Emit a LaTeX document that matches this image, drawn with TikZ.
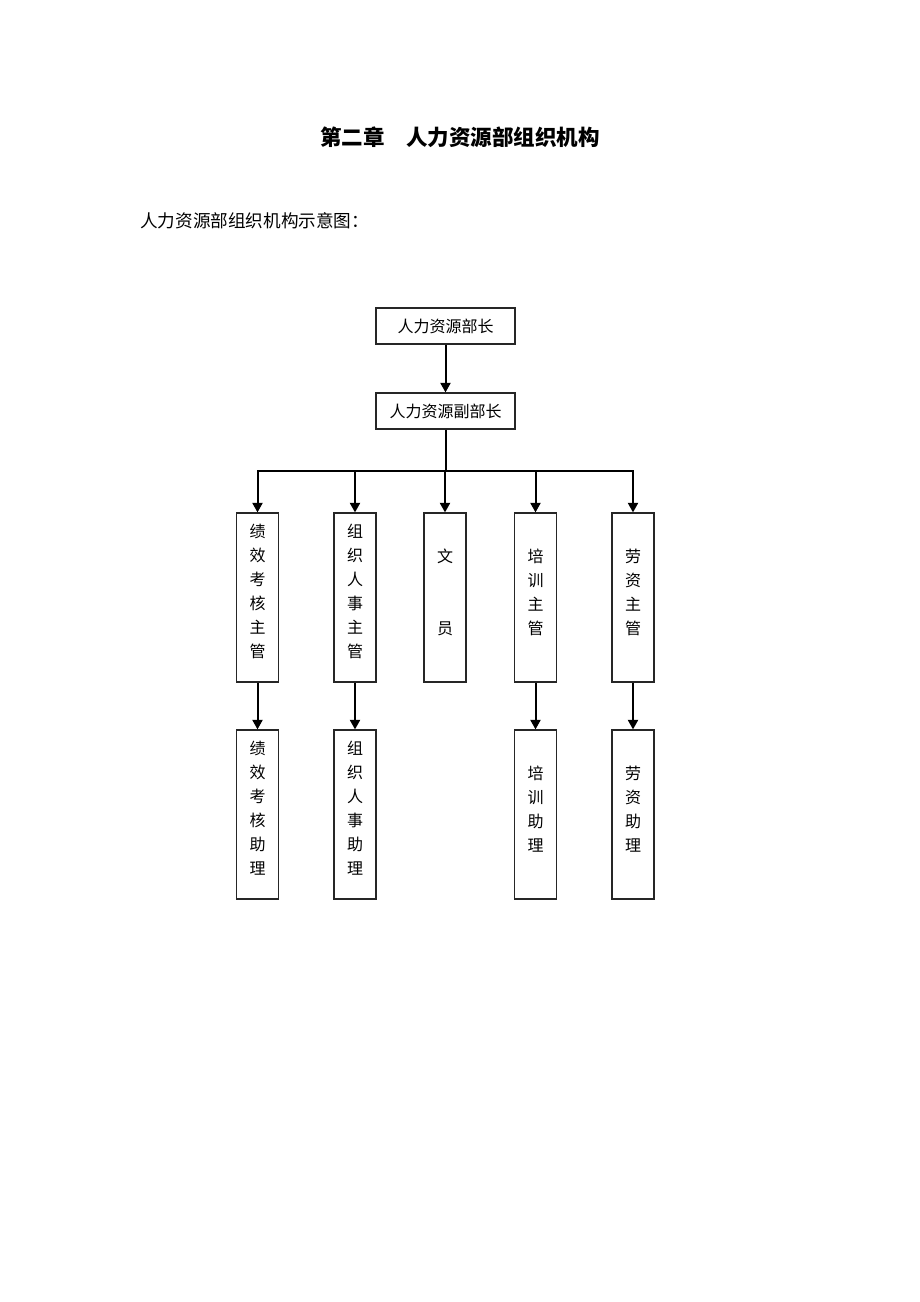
\documentclass[tikz,border=0pt]{standalone}
\usepackage{fontspec}
\newfontfamily\cjk{Noto Sans CJK SC}
\usetikzlibrary{arrows.meta}
\tikzstyle{unitbox}=[draw=black!85,line width=1.2pt,minimum width=139pt,minimum height=36pt,inner sep=0pt,font=\cjk\fontsize{16pt}{24pt}\selectfont]
\tikzstyle{colbox}=[draw=black!85,line width=1.2pt,inner sep=0pt,font=\cjk\fontsize{16pt}{24pt}\selectfont]
\tikzstyle{link}=[line width=2pt,-{Triangle[length=9.5pt,width=10pt]}]
\tikzstyle{busline}=[line width=2pt]
\newcommand{\coltext}[2][24.5pt]{\parbox[c][169pt][t]{42pt}{\centering\rule{0pt}{#1}#2}} % first line lowered by #1

\begin{document}
\begin{tikzpicture}[x=1pt,y=-1pt]
\useasboundingbox (0,0) rectangle (920,1302);
% headings
\node[font=\cjk\bfseries\fontsize{21.5pt}{26pt}\selectfont] (title) at (460,137) {第二章　人力资源部组织机构};
\node[anchor=west,inner sep=0pt,font=\cjk\fontsize{17.6pt}{22pt}\selectfont] (subtitle) at (140,220.5) {人力资源部组织机构示意图：};
% top of the chart
\node[unitbox] (head) at (445.5,326) {人力资源部长};
\node[unitbox] (vice) at (445.5,411) {人力资源副部长};
\draw[link] (head) -- (vice);
% supervisors
\node[colbox] (s1) at (257.5,597.5) {\coltext{绩\\效\\考\\核\\主\\管}};
\node[colbox] (s2) at (355,597.5) {\coltext{组\\织\\人\\事\\主\\管}};
\node[colbox] (s3) at (445,597.5) {\coltext[49pt]{文\\[48.5pt]员}};
\node[colbox] (s4) at (535.5,597.5) {\coltext[49pt]{培\\训\\主\\管}};
\node[colbox] (s5) at (633,597.5) {\coltext[49pt]{劳\\资\\主\\管}};
\coordinate (bus) at (445.5,471);
\draw[busline] (vice) -- (bus);
\foreach \s in {s1,s2,s3,s4,s5}
  \draw[link] (bus) -| (\s);
% assistants
\node[colbox] (a1) at (257.5,814.5) {\coltext{绩\\效\\考\\核\\助\\理}};
\node[colbox] (a2) at (355,814.5) {\coltext{组\\织\\人\\事\\助\\理}};
\node[colbox] (a4) at (535.5,814.5) {\coltext[49pt]{培\\训\\助\\理}};
\node[colbox] (a5) at (633,814.5) {\coltext[49pt]{劳\\资\\助\\理}};
\foreach \i in {1,2,4,5}
  \draw[link] (s\i) -- (a\i);
\end{tikzpicture}
\end{document}
